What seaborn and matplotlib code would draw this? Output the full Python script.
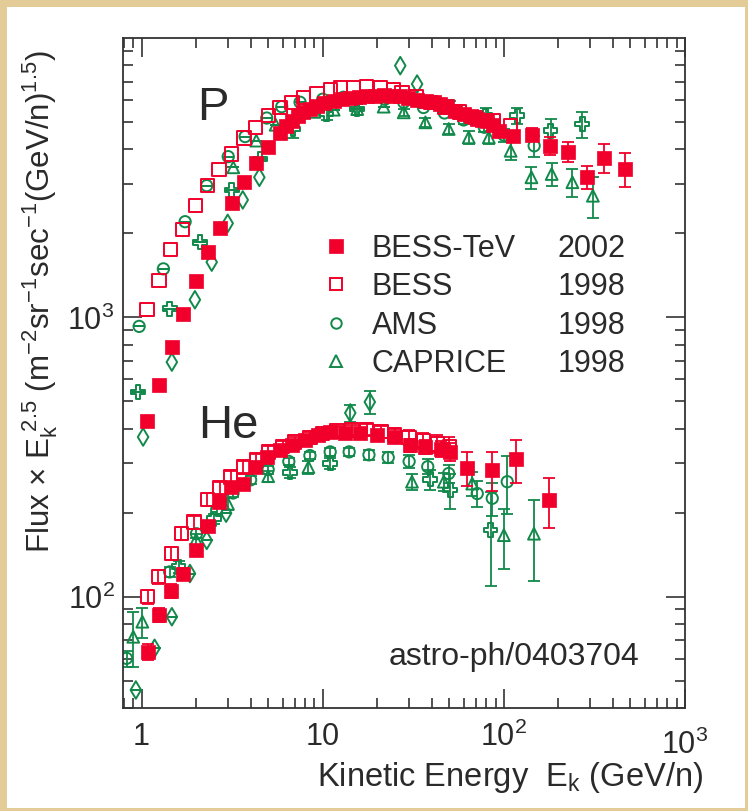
import numpy as np
import pandas as pd
import matplotlib
matplotlib.use("Agg")
import matplotlib.pyplot as plt
import matplotlib.ticker as mticker
import matplotlib.transforms as mtransforms
from matplotlib.lines import Line2D
from matplotlib.patches import Rectangle
import seaborn as sns

# ---------------- data ----------------
# Protons
p_tev_E = [1.07, 1.25, 1.47, 1.69, 2.0, 2.32, 2.71, 3.17, 3.68, 4.29, 5.01, 5.82, 6.3, 6.76, 7.3, 7.83,
           8.5, 9.29, 10.2, 11.5, 12.8, 14.2, 15.8, 17.5, 19.5, 21.7, 24, 26.8, 29.5, 33.1, 37, 41, 44.5,
           48.5, 54, 60, 65.5, 71.3, 76, 81, 87, 93.8, 113, 143, 179, 225, 287, 356, 466]
p_tev_F = [425, 571, 781, 1031, 1349, 1713, 2094, 2564, 3050, 3575, 4066, 4563, 4850, 5060, 5250, 5430,
           5600, 5730, 5850, 5960, 6050, 6120, 6170, 6200, 6230, 6250, 6230, 6200, 6120, 6030, 5950, 5890, 5800,
           5730, 5500, 5360, 5250, 5140, 5100, 5070, 4900, 4660, 4450, 4520, 4121, 3926, 3194, 3734, 3412]
p_tev_err = [0] * 42 + [200, 250, 300, 330, 300, 440, 470]

p_bess_E = [1.07, 1.25, 1.45, 1.69, 1.99, 2.31, 2.68, 3.15, 3.68, 4.27, 5.01, 5.82, 6.76, 7.83, 9.29,
            11.0, 12.5, 14.8, 17.5, 20.8, 24.6, 27.4, 33, 39.3, 47, 57, 70, 88, 109]
p_bess_F = [1066, 1356, 1749, 2060, 2518, 2966, 3394, 3855, 4398, 4799, 5282, 5654, 5890, 6135, 6310,
            6525, 6630, 6670, 6700, 6670, 6525, 6400, 6200, 5890, 5650, 5450, 5200, 5070, 4860]

p_ams_E = [0.97, 1.32, 1.74, 2.29, 3.01, 3.73, 4.91, 5.94, 7.5, 10, 13, 17, 22, 28, 36, 47, 60, 78, 100, 147]
p_ams_F = [929, 1493, 2203, 2966, 3767, 4446, 5180, 5690, 5900, 6050, 6150, 6150, 6050, 5900, 5650, 5400,
           5100, 4800, 4500, 4120]
p_ams_err = [0] * 16 + [150, 200, 250, 350]

p_cap_E = [3.21, 4.3, 5.5, 7.0, 9.0, 11.5, 15.5, 21.7, 28, 36.9, 49.6, 64, 82.6, 109, 142, 183.6, 239, 310]
p_cap_F = [3450, 4300, 4900, 5250, 5450, 5550, 5580, 5690, 5430, 5000, 4733, 4416, 4416, 3954, 3177, 3265,
           3050, 2729]
p_cap_err = [0] * 8 + [150, 200, 200, 250, 250, 300, 280, 300, 350, 450]

p_crs_E = [0.958, 1.43, 2.10, 3.15, 4.5, 6.84, 10.5, 15.5, 50.7, 79.2, 118.6, 181, 271.5]
p_crs_F = [541, 1074, 1857, 2864, 3700, 4733, 5359, 5580, 5654, 5282, 5282, 4667, 4932]
p_crs_err = [0, 0, 0, 0, 0, 350, 250, 250, 300, 350, 360, 470, 530]

p_dia_E = [1.02, 1.47, 1.97, 2.44, 2.99, 3.62, 4.47, 26.8, 33.2]
p_dia_F = [373, 692, 1157, 1578, 2173, 2637, 3177, 7980, 6857]

# Helium
he_tev_E = [1.08, 1.25, 1.46, 1.70, 1.99, 2.32, 2.69, 3.12, 3.65, 4.24, 4.91, 5.82, 6.76, 8.0, 9.48,
            11.0, 13.3, 16.1, 19.9, 24.6, 30.5, 36.9, 44.7, 50.7, 62.8, 86.3, 116, 177]
he_tev_F = [63.5, 85.9, 104.9, 121, 146.7, 178.7, 218, 246, 254, 291, 316, 334, 348, 363, 378,
            389, 384, 384, 378, 372, 348, 343, 339, 330, 290, 284, 310, 221]
he_tev_err = [4, 5, 6, 6, 7, 8, 9, 10, 10, 11, 12, 12, 12, 13, 13,
              14, 14, 15, 16, 17, 18, 20, 22, 25, 40, 46, 55, 45]

he_bess_E = [1.08, 1.24, 1.46, 1.66, 1.95, 2.31, 2.7, 3.1, 3.65, 4.3, 5.0, 6.0, 7.0, 8.5, 10, 12, 14.5,
             17.5, 21, 25, 30, 36, 43, 50]
he_bess_F = [100, 118, 143, 168, 185, 223, 245, 268, 291, 310, 330, 345, 358, 372, 385, 392, 395,
             397, 390, 380, 372, 362, 352, 345]
he_bess_err = [6, 7, 8, 9, 10, 12, 12, 13, 14, 14, 15, 15, 15, 16, 16, 17, 17,
               18, 19, 20, 22, 24, 26, 28]

he_ams_E = [0.826, 1.43, 2.01, 2.6, 3.2, 4.0, 5.0, 6.5, 8.5, 11, 14, 18, 23, 30, 38, 49.6, 71.3, 86.3, 104.4]
he_ams_F = [60.1, 122.6, 168, 205, 235, 262, 285, 305, 320, 330, 330, 322, 315, 305, 292, 276, 234, 225, 258]
he_ams_err = [4, 5, 6, 7, 8, 8, 9, 10, 10, 11, 12, 13, 14, 16, 18, 20, 25, 30, 60]

he_cap_E = [0.90, 1.01, 2.0, 3.0, 5.0, 8.34, 31.1, 46.6, 66.9, 100, 146.6]
he_cap_F = [71.8, 81.3, 160, 215, 270, 291, 258, 258, 254, 166, 168]
he_cap_err = [16, 10, 8, 10, 12, 15, 18, 20, 25, 40, 54]

he_crs_E = [1.6, 2.5, 6.61, 11.0, 39.3, 50.7, 84.4]
he_crs_F = [128, 190, 279, 300, 263, 241, 173]
he_crs_err = [6, 8, 12, 14, 22, 35, 64]

he_dia_E = [0.93, 1.18, 1.47, 1.85, 2.29, 2.93, 14.2, 18.2]
he_dia_F = [46.3, 65.3, 84.7, 121, 159, 199, 455, 498]
he_dia_err = [0, 0, 0, 0, 0, 0, 32, 48]

legend_names = ["BESS-TeV", "BESS", "AMS", "CAPRICE"]
legend_years = ["2002", "1998", "1998", "1998"]

x_ticks = [1, 10, 100, 1000]
x_ticklabels = ["1", "10", r"$10^{2}$", r"$10^{3}$"]
y_ticks = [100, 1000]
y_ticklabels = [r"$10^{2}$", r"$10^{3}$"]

RED = "#F0002A"
GREEN = "#11894A"

# ---------------- style ----------------
sns.set_theme(style="white")
plt.rcParams["font.family"] = ["Liberation Sans", "DejaVu Sans"]
plt.rcParams["mathtext.fontset"] = "custom"
plt.rcParams["mathtext.rm"] = "Liberation Sans"
plt.rcParams["mathtext.it"] = "Liberation Sans:italic"
plt.rcParams["mathtext.bf"] = "Liberation Sans:bold"
plt.rcParams["mathtext.sf"] = "Liberation Sans"
FS = 22
TXT = "#2a2a2a"
PARCH = "#E4CC98"

fig = plt.figure(figsize=(7.48, 8.11), dpi=100)
fig.patch.set_facecolor("white")
for rect in [(0, 0, 7 / 748, 1), (0, 1 - 7 / 811, 1, 7 / 811),
             (1 - 3 / 748, 0, 3 / 748, 1), (0, 0, 1, 3 / 811)]:
    fig.patches.append(Rectangle(rect[:2], rect[2], rect[3], transform=fig.transFigure,
                                 facecolor=PARCH, edgecolor="none", zorder=-5))
ax = fig.add_axes([123 / 748, 1 - 707.7 / 811, 562 / 748, 669.4 / 811])
ax.set_facecolor("white")

# (E, F, err, marker, color, filled, size, zorder)
series = [
    (p_dia_E, p_dia_F, None, "d", GREEN, False, 80, 2),
    (p_crs_E, p_crs_F, p_crs_err, "P", GREEN, False, 100, 2),
    (p_cap_E, p_cap_F, p_cap_err, "^", GREEN, False, 72, 2),
    (p_ams_E, p_ams_F, p_ams_err, "o", GREEN, False, 66, 2),
    (p_bess_E, p_bess_F, None, "s", RED, False, 92, 3),
    (p_tev_E, p_tev_F, p_tev_err, "s", RED, True, 112, 4),
    (he_dia_E, he_dia_F, he_dia_err, "d", GREEN, False, 80, 2),
    (he_crs_E, he_crs_F, he_crs_err, "P", GREEN, False, 100, 2),
    (he_cap_E, he_cap_F, he_cap_err, "^", GREEN, False, 72, 2),
    (he_ams_E, he_ams_F, he_ams_err, "o", GREEN, False, 66, 2),
    (he_bess_E, he_bess_F, he_bess_err, "s", RED, False, 92, 3),
    (he_tev_E, he_tev_F, he_tev_err, "s", RED, True, 112, 4),
]

for E, F, err, mk, col, filled, sz, zo in series:
    df = pd.DataFrame({"E": E, "F": F})
    if err is not None:
        ax.errorbar(df["E"], df["F"], yerr=np.asarray(err, dtype=float), fmt="none",
                    ecolor=col, elinewidth=1.3, capsize=4, capthick=1.3, zorder=zo - 0.5)
    if filled:
        sns.scatterplot(data=df, x="E", y="F", ax=ax, marker=mk, color=col,
                        edgecolor=col, s=sz, linewidth=0.5, zorder=zo, legend=False)
    else:
        sns.scatterplot(data=df, x="E", y="F", ax=ax, marker=mk, color=col,
                        facecolor="none", edgecolor=col, s=sz, linewidth=1.4,
                        zorder=zo, legend=False)

ax.set_xscale("log")
ax.set_yscale("log")
ax.set_xlim(0.79, 1000)
ax.set_ylim(40, 10000)

ax.xaxis.set_major_locator(mticker.FixedLocator(x_ticks))
ax.xaxis.set_major_formatter(mticker.FixedFormatter(x_ticklabels))
ax.yaxis.set_major_locator(mticker.FixedLocator(y_ticks))
ax.yaxis.set_major_formatter(mticker.FixedFormatter(y_ticklabels))
ax.xaxis.set_minor_locator(mticker.LogLocator(base=10, subs=np.arange(2, 10), numticks=20))
ax.yaxis.set_minor_locator(mticker.LogLocator(base=10, subs=np.arange(2, 10), numticks=20))
ax.xaxis.set_minor_formatter(mticker.NullFormatter())
ax.yaxis.set_minor_formatter(mticker.NullFormatter())

ax.tick_params(which="both", direction="in", top=True, right=True, bottom=True, left=True,
               color="#333333", width=1.2, labelsize=FS, labelcolor=TXT)
ax.tick_params(which="major", length=13.5)
ax.tick_params(which="minor", length=7)
ax.tick_params(axis="x", which="major", pad=10)
ax.tick_params(axis="y", which="major", pad=6)
for sp in ax.spines.values():
    sp.set_color("#333333")
    sp.set_linewidth(1.3)

# shift the 10^3 label down (as in reference)
last = ax.xaxis.get_major_ticks()[-1].label1
last.set_transform(last.get_transform() +
                   mtransforms.ScaledTranslation(0, -8 / 100, fig.dpi_scale_trans))

ax.set_xlabel(r"Kinetic Energy  E$_{\rm k}$ (GeV/n)", fontsize=23.5, color=TXT)
ax.xaxis.set_label_coords(0.689, -0.078)
ax.set_ylabel(r"Flux $\times$ E$_{\rm k}^{\ 2.5}$ (m$^{-2}$sr$^{-1}$sec$^{-1}$(GeV/n)$^{1.5}$)",
              fontsize=22.5, color=TXT)
ax.yaxis.set_label_coords(-0.112, 0.606)

ax.text(0.1317, 0.878, "P", transform=ax.transAxes, fontsize=34, color=TXT, va="baseline")
ax.text(0.1335, 0.403, "He", transform=ax.transAxes, fontsize=34, color=TXT, va="baseline")
ax.text(0.918, 0.064, "astro-ph/0403704", transform=ax.transAxes, fontsize=23, color=TXT,
        ha="right", va="baseline")

handles = [
    Line2D([], [], ls="none", marker="s", color=RED, markersize=9.5, markeredgewidth=0.5),
    Line2D([], [], ls="none", marker="s", color=RED, markerfacecolor="none", markersize=8,
           markeredgewidth=1.4),
    Line2D([], [], ls="none", marker="o", color=GREEN, markerfacecolor="none", markersize=7.5,
           markeredgewidth=1.4),
    Line2D([], [], ls="none", marker="^", color=GREEN, markerfacecolor="none", markersize=8,
           markeredgewidth=1.4),
]
LY = 0.708
leg1 = ax.legend(handles, legend_names, loc="upper left", bbox_to_anchor=(0.358, LY),
                 frameon=False, fontsize=FS, handlelength=0.8, handletextpad=0.75,
                 labelspacing=0.275, borderpad=0, borderaxespad=0, labelcolor=TXT)
ax.add_artist(leg1)
blank = [Line2D([], [], ls="none") for _ in legend_years]
ax.legend(blank, legend_years, loc="upper left", bbox_to_anchor=(0.774, LY),
          frameon=False, fontsize=FS, handlelength=0, handletextpad=0,
          labelspacing=0.275, borderpad=0, borderaxespad=0, labelcolor=TXT)

fig.savefig("out.png", dpi=100, facecolor=fig.get_facecolor())
